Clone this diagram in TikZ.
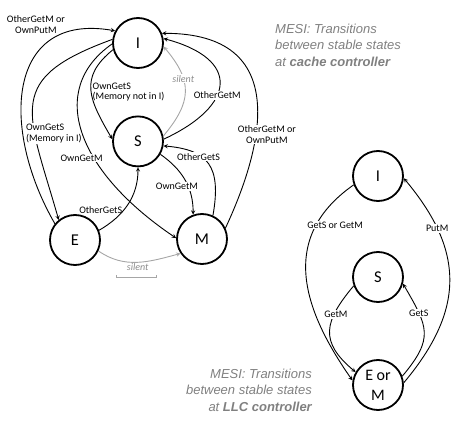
\documentclass[tikz,border=0pt]{standalone}
\usepackage{fontspec}
\usepackage{tikz}
\usetikzlibrary{arrows,positioning,shapes}
\newfontfamily\lblfont{Carlito}
\newfontfamily\ttlfont{Liberation Sans}

\begin{document}
\begin{tikzpicture}[x=1pt, y=1pt, >=stealth]
    \tikzstyle{state} = [draw, circle, line width=1.8pt, minimum size=50pt, inner sep=0pt, align=center, font=\lblfont\fontsize{16.5}{20}\selectfont]
    \tikzstyle{lbl} = [font=\lblfont\fontsize{10}{10.5}\selectfont, inner sep=1pt, align=center]
    \tikzstyle{lblw} = [lbl, fill=white]
    \tikzstyle{silentlbl} = [lbl, fill=white, text=black!45, font=\lblfont\itshape\fontsize{10}{10.5}\selectfont]
    \tikzstyle{title} = [inner sep=0pt, text=black!50, font=\ttlfont\itshape\fontsize{13}{16.5}\selectfont]
    \tikzstyle{trans} = [->, line width=0.9pt]
    \tikzstyle{silent} = [->, line width=0.9pt, draw=black!35]

    \useasboundingbox (0,0) rectangle (456,424);

    % cache controller
    \node [state] (I) at (138,381) {I};
    \node [state, below = 46.6pt of I] (S) {S};
    \node [state] (E) at (75,184) {E};
    \node [state] (M) at (202,185) {M};

    % LLC controller
    \node [state] (rI) at (378,248) {I};
    \node [state, below = 49.2pt of rI] (rS) {S};
    \node [state, below = 56.2pt of rS, font=\lblfont\fontsize{16}{20}\selectfont] (rEM) {E or\\M};

    \node [title, anchor=north west, align=left] (ttop) at (275,400.6) {MESI: Transitions\\between stable states\\at \textbf{cache controller}};
    \node [title, anchor=north east, align=right] (tbot) at (312,55.6) {MESI: Transitions\\between stable states\\at \textbf{LLC controller}};

    \draw [trans] (E.141) to[out=120, in=170, distance=110pt] node[lbl, pos=0.82, anchor=-15] {OtherGetM or\\OwnPutM} (I.152);
    \draw [trans] (I.172) to[out=200, in=106, distance=115pt] node[lblw, pos=0.67, anchor=west, xshift=-10pt, align=left] {OwnGetS\\(Memory in I)} (E.129);
    \draw [trans] (I.182) to[out=215, in=146, out distance=80pt, in distance=120pt] node[lblw, pos=0.62, anchor=east, xshift=10pt] {OwnGetM} (M.178);
    \draw [trans] (I.195) to[out=219, in=120, distance=45pt] node[lbl, pos=0.52, anchor=west, align=left] {OwnGetS\\(Memory not in I)} (S.175);
    \draw [silent] (S.12) to[out=50, in=-50, distance=45pt] node[silentlbl, pos=0.65] {silent} (I.-8);
    \draw [trans] (S.5) to[out=25, in=-15, distance=80pt] node[lblw, pos=0.4] {OtherGetM} (I.10);
    \draw [trans] (E.22) to[out=30, in=270] node[lbl, pos=0.4, anchor=east] {OtherGetS} (S.270);
    \draw [silent] (E.-25) to[out=-35, in=195] node[silentlbl, midway, anchor=north] {silent} (M.214);
    \draw [trans] (S.-30) to[out=-35, in=90] node[lblw, pos=0.6, xshift=-11pt] {OwnGetM} (M.110);
    \draw [trans] (M.65) to[out=80, in=-5, out distance=50pt, in distance=45pt] node[lblw, pos=0.62, xshift=-3pt] {OtherGetS} (S.-10);
    \draw [trans] (M.25) to[out=65, in=0, out distance=90pt, in distance=130pt] node[lblw, pos=0.36, xshift=11pt] {OtherGetM or\\OwnPutM} (I.22);

    \draw [black!35] (116,149) -- (116,147) -- (156,147) -- (156,149);
    \draw [black!35] (136,147) -- (136,145.5);

    \draw [trans] (rI.200) to[out=215, in=125, distance=90pt] node[lblw, pos=0.24, xshift=19pt] {GetS or GetM} (rEM.170);
    \draw [trans] (rEM.5) to[out=50, in=-50, distance=95pt] node[lblw, pos=0.76] {PutM} (rI.-5);
    \draw [trans] (rS.200) to[out=230, in=140, distance=47pt] node[lblw, pos=0.3, xshift=2pt] {GetM} (rEM.150);
    \draw [trans] (rEM.20) to[out=50, in=-60, distance=50pt] node[lblw, pos=0.73] {GetS} (rS.-15);
\end{tikzpicture}
\end{document}
